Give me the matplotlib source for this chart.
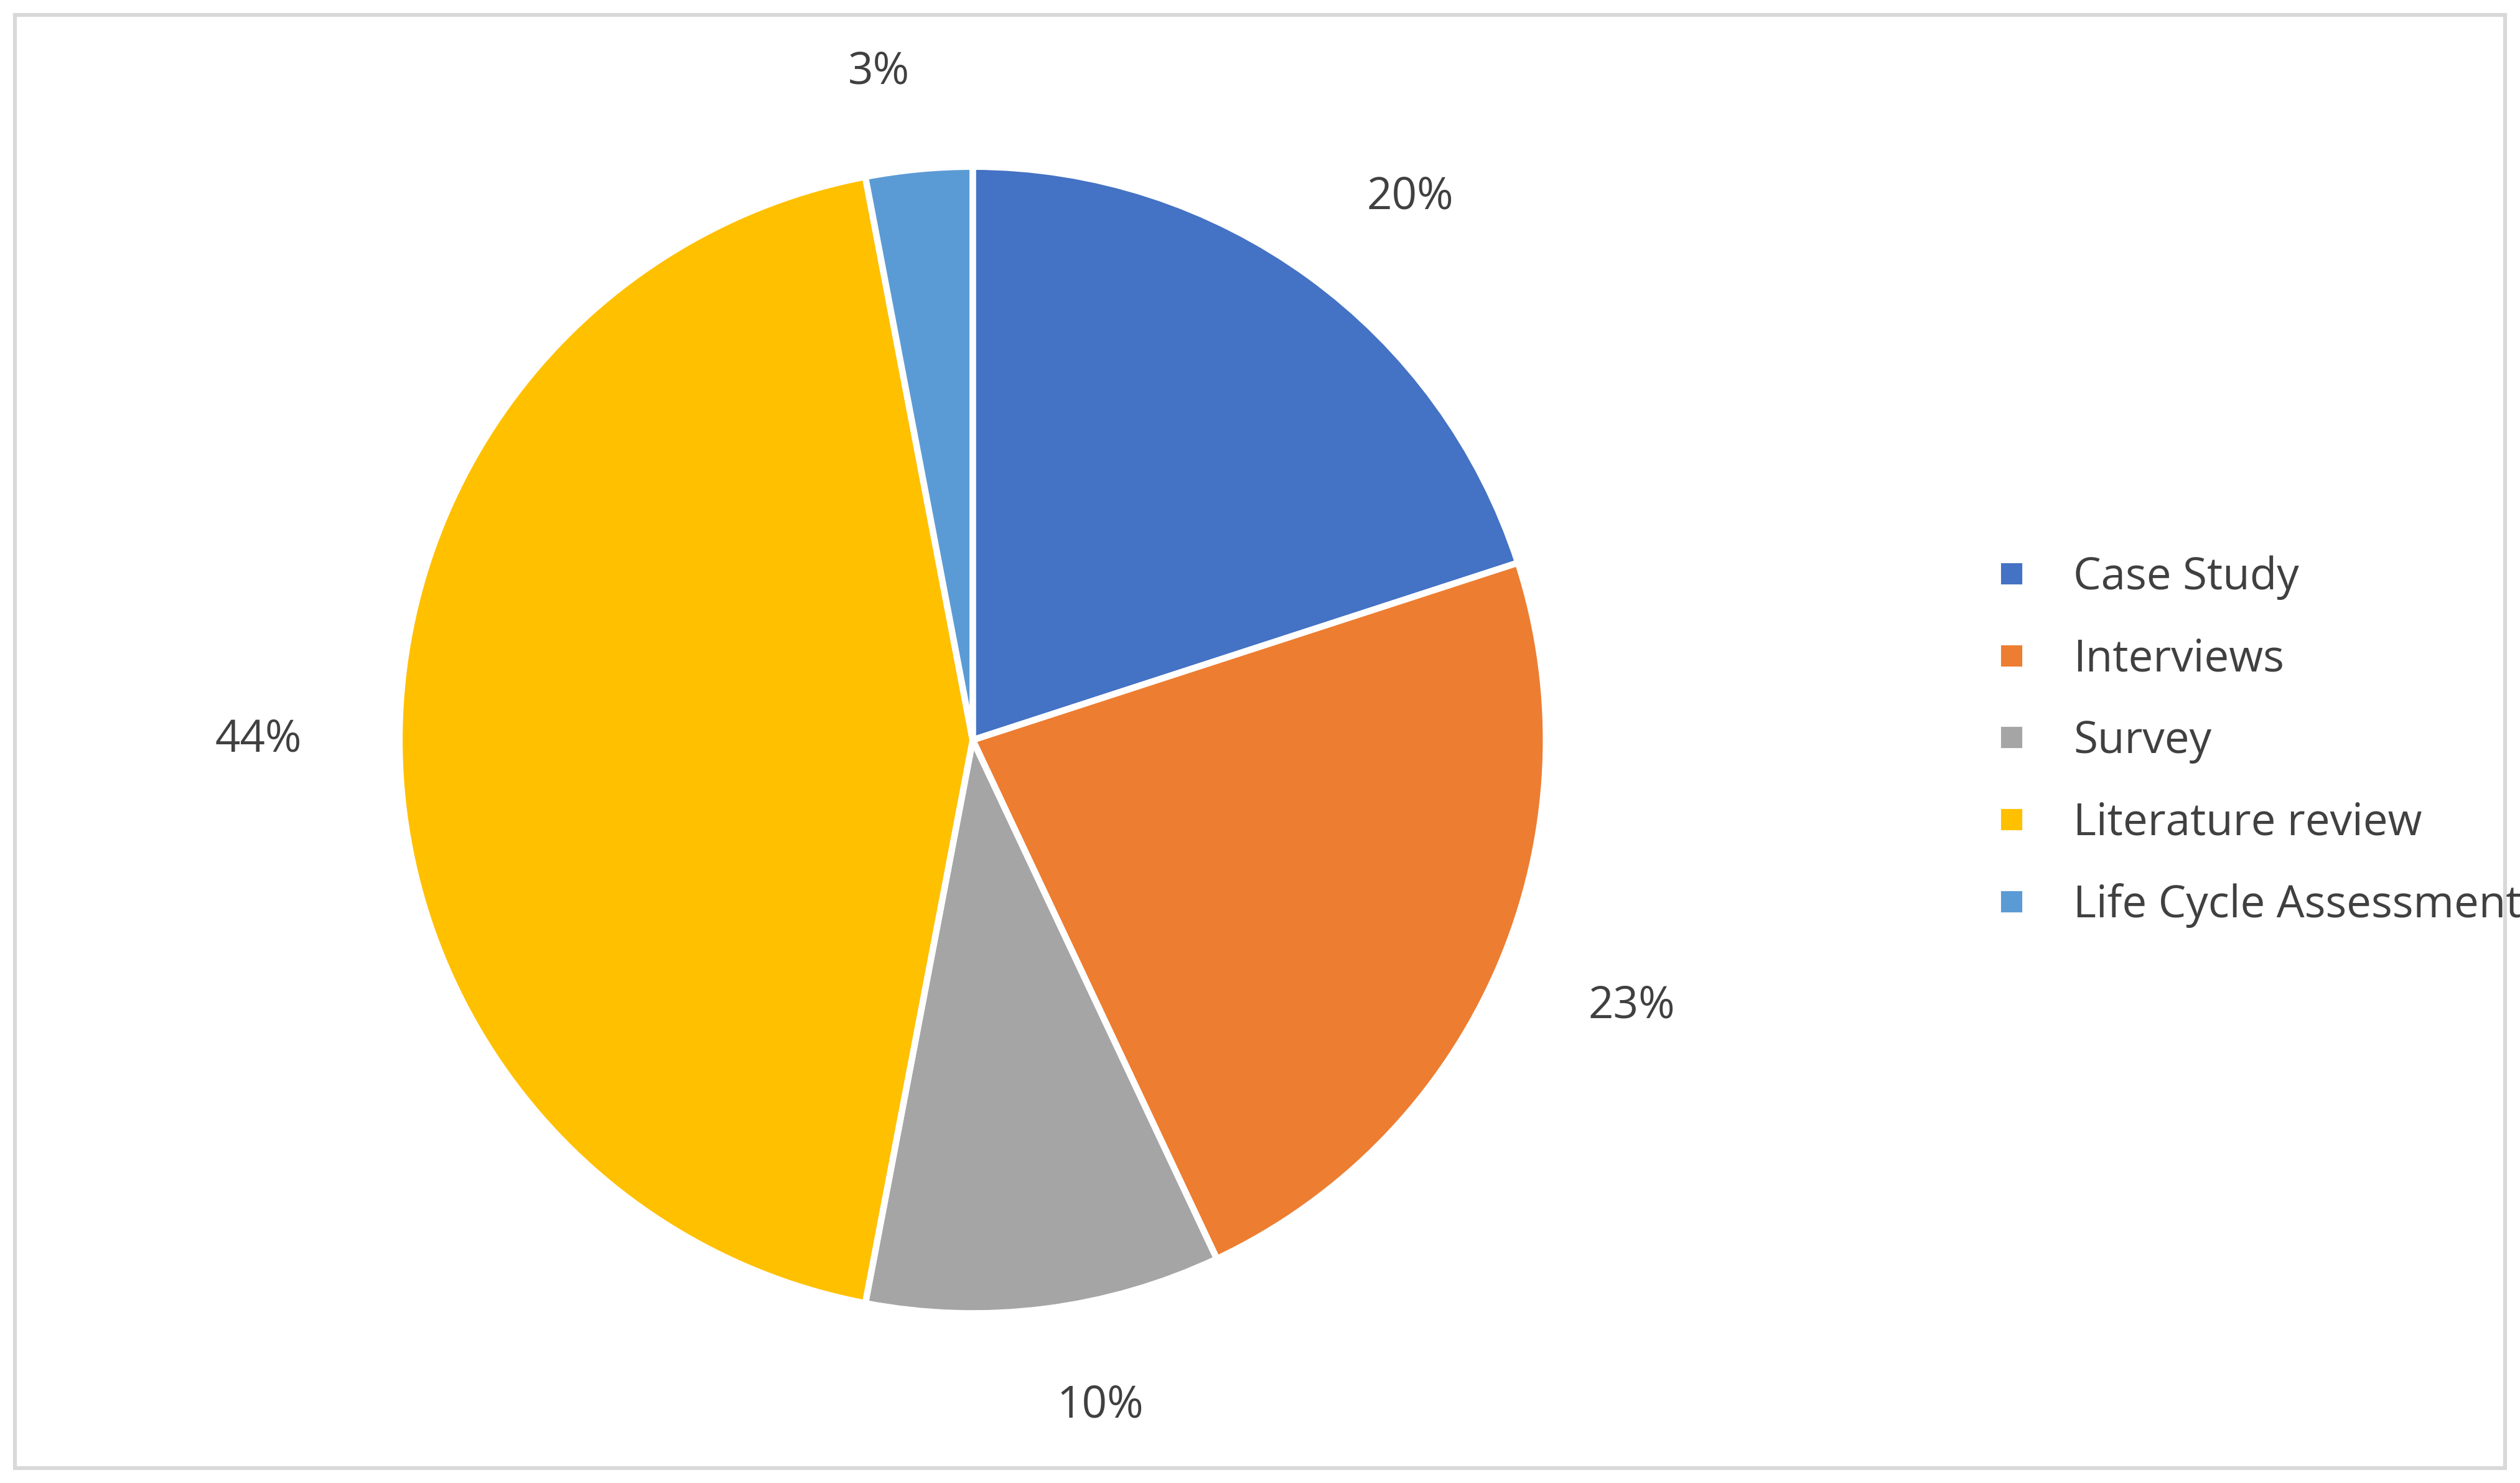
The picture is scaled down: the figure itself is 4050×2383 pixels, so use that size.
import matplotlib.pyplot as plt
from matplotlib.patches import Rectangle
from matplotlib.lines import Line2D

labels = ["Case Study", "Interviews", "Survey", "Literature review", "Life Cycle Assessment"]
values = [20, 23, 10, 44, 3]
colors = ["#4472C4", "#ED7D31", "#A5A5A5", "#FFC000", "#5B9BD5"]

plt.rcParams['font.family'] = ['Open Sans', 'DejaVu Sans']
text_color = "#404040"

fig = plt.figure(figsize=(13.5, 2383 / 300), dpi=300)
ax = fig.add_axes([0.1585, 0.114, 0.455, 0.774])

wedges, texts = ax.pie(values, colors=colors, startangle=90, counterclock=False,
                       labels=[f"{v}%" for v in values], labeldistance=1.17,
                       wedgeprops=dict(edgecolor="white", linewidth=2.5),
                       textprops=dict(fontsize=17, color=text_color))
ax.set_aspect("equal")
ax.set_xlim(-1, 1)
ax.set_ylim(-1, 1)

# outer frame
fig.patches.append(Rectangle((0.006, 0.01), 0.988, 0.98, transform=fig.transFigure,
                             fill=False, edgecolor="#D9D9D9", linewidth=1.5))

handles = [Line2D([], [], marker="s", linestyle="", markersize=7, color=c) for c in colors]
fig.legend(handles, labels, loc="center left", bbox_to_anchor=(0.765, 0.5), frameon=False,
           fontsize=17, labelcolor=text_color, handletextpad=0.4, labelspacing=0.85)

fig.savefig("out.png", dpi=300)
